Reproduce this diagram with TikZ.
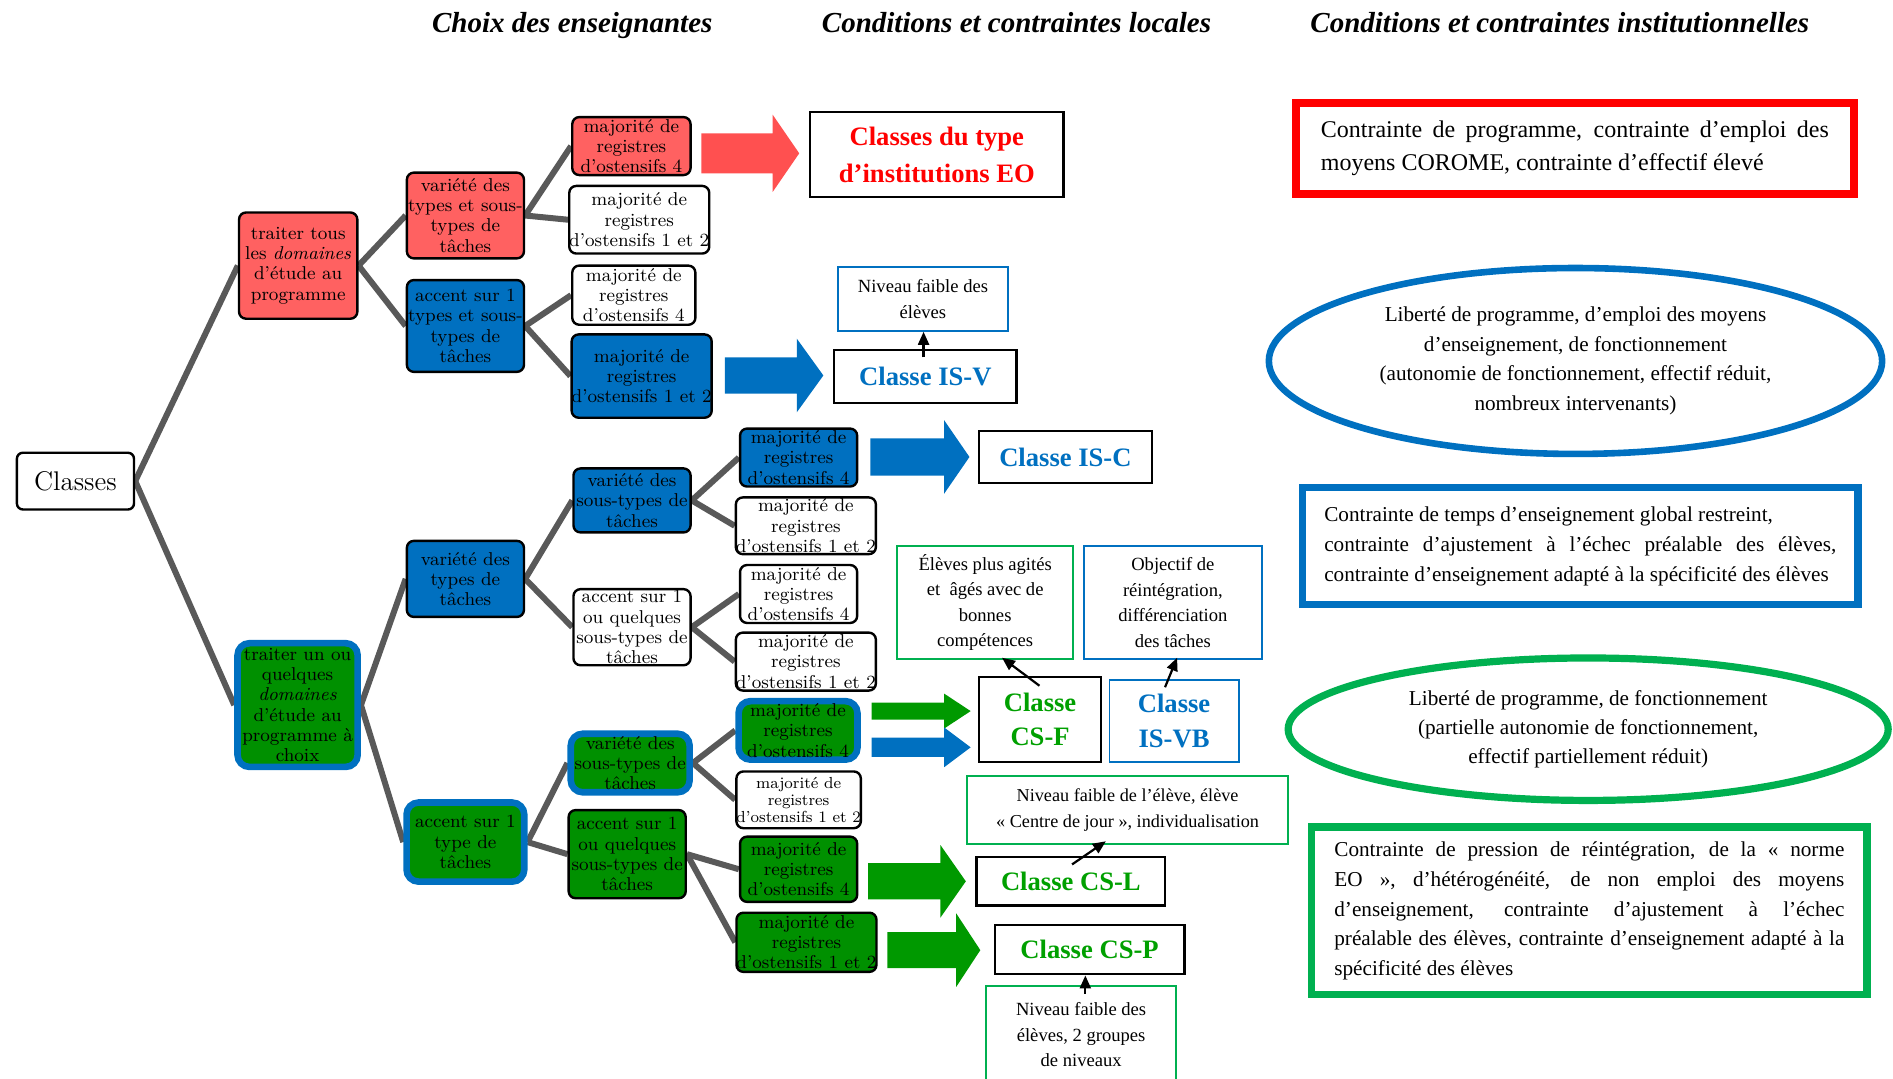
\documentclass[tikz,border=0pt]{standalone}
\usepackage{fontspec}
\newfontfamily\tnr{Liberation Serif}
\usetikzlibrary{shapes.geometric,backgrounds,calc,arrows.meta}
\definecolor{cred}{HTML}{FF6161}
\definecolor{cblue}{HTML}{0070C0}
\definecolor{cgreen}{HTML}{009000}
\definecolor{cgray}{HTML}{595959}
\definecolor{ared}{HTML}{FF5050}
\definecolor{agreen}{HTML}{009900}
\definecolor{tgreen}{HTML}{00A000}
\definecolor{bgreen}{HTML}{00B050}
\definecolor{bred}{HTML}{FF0000}
\newcommand\maj[1]{majorité de\\registres\\d'ostensifs #1}
% start, end, shaft half, head half, head length, colour
\newcommand\barrow[6]{\fill[#6] ($(#1)+(0,-#3)$) -- ($(#2)+(-#5,-#3)$) -- ($(#2)+(-#5,-#4)$) -- (#2) -- ($(#2)+(-#5,#4)$) -- ($(#2)+(-#5,#3)$) -- ($(#1)+(0,#3)$) -- cycle;}
\begin{document}
\begin{tikzpicture}[x=0.6036pt, y=-0.6036pt,
  sz/.style 2 args={minimum width=#1*0.6036pt, minimum height=#2*0.6036pt},
  tn/.style={draw=black, line width=1.2pt, rounded corners=3.5pt, align=center, inner sep=0pt, font=\fontsize{9.3}{10.1}\selectfont},
  redn/.style={tn, fill=cred},
  bluen/.style={tn, fill=cblue},
  whiten/.style={tn, fill=white},
  greenn/.style={tn, fill=cgreen},
  gbn/.style={tn, fill=cgreen, draw=cblue, line width=3.3pt, rounded corners=6pt},
  conn/.style={draw=cgray, line width=3pt},
  cb/.style={draw=black, line width=1.2pt, fill=white, align=center, inner sep=0pt, font=\tnr\bfseries\fontsize{13.3}{18.5}\selectfont},
  nb/.style={draw, line width=1pt, fill=white, align=center, inner sep=0pt, font=\tnr\fontsize{9.3}{12.8}\selectfont},
  sa/.style={draw=black, line width=1.1pt, -{Triangle[length=6.5pt, width=5.5pt]}},
  hd/.style={anchor=base, inner sep=0pt, font=\tnr\bfseries\itshape\fontsize{14.5}{17}\selectfont},
]
\useasboundingbox (0,0) rectangle (1568,893);

% headers
\node[hd] (H1) at (474,27) {Choix des enseignantes};
\node[hd] (H2) at (842,27) {Conditions et contraintes locales};
\node[hd] (H3) at (1292,27) {Conditions et contraintes institutionnelles};

% tree
\node[tn, fill=white, sz={97}{47}, rounded corners=3pt, font=\fontsize{13.5}{15}\selectfont] (C0) at (62.5,398.5) {Classes};
\node[redn, sz={98}{88}] (T1) at (247,220) {traiter tous\\les \emph{domaines}\\d'étude au\\programme};
\node[gbn, sz={99.5}{102.5}] (T2) at (246.5,584) {traiter un ou\\quelques\\\emph{domaines}\\d'étude au\\programme à\\choix};
\node[redn, sz={97}{71}] (R1) at (385.5,178.5) {variété des\\types et sous-\\types de\\tâches};
\node[bluen, sz={97}{76}] (B1) at (385.5,270) {accent sur 1\\types et sous-\\types de\\tâches};
\node[bluen, sz={97}{63}] (B2) at (385.5,479.5) {variété des\\types de\\tâches};
\node[gbn, sz={97.5}{65.5}] (G1) at (385.5,697.5) {accent sur 1\\type de\\tâches};
\node[redn, sz={98}{48}] (r4) at (523,121) {\maj{4}};
\node[whiten, sz={111}{56}] (w12a) at (529.5,182) {\maj{1 et 2}};
\node[whiten, sz={102}{49}] (w4a) at (525,244.5) {\maj{4}};
\node[bluen, sz={115}{69}] (b12) at (531.5,311.5) {\maj{1 et 2}};
\node[bluen, sz={97}{53}] (B3) at (523.5,414.5) {variété des\\sous-types de\\tâches};
\node[whiten, sz={97}{63}] (W1) at (523.5,519.5) {accent sur 1\\ou quelques\\sous-types de\\tâches};
\node[gbn, sz={98.5}{48.5}] (G2) at (522,632) {variété des\\sous-types de\\tâches};
\node[greenn, sz={97}{73}] (G3) at (519.5,707.5) {accent sur 1\\ou quelques\\sous-types de\\tâches};
\node[bluen, sz={97}{48}] (b4) at (661.5,379) {\maj{4}};
\node[whiten, sz={109}{47}] (w12b) at (667.5,435.5) {\maj{1 et 2}};
\node[whiten, sz={97}{48}] (w4b) at (661.5,492) {\maj{4}};
\node[whiten, sz={109}{48}] (w12c) at (667.5,548) {\maj{1 et 2}};
\node[gbn, sz={98.5}{48.5}] (g4a) at (661,605) {\maj{4}};
\node[whiten, sz={97}{47}, font=\fontsize{8}{8.6}\selectfont] (w12d) at (661.5,662.5) {\maj{1 et 2}};
\node[greenn, sz={97}{54}] (g4b) at (661.5,720) {\maj{4}};
\node[greenn, sz={110}{49}] (g12) at (668,780.5) {\maj{1 et 2}};

\begin{scope}[on background layer]
\foreach \a/\b in {C0/T1, C0/T2, T1/R1, T1/B1, R1/r4, R1/w12a, B1/w4a, B1/b12,
  T2/B2, T2/G1, B2/B3, B2/W1, B3/b4, B3/w12b, W1/w4b, W1/w12c,
  G1/G2, G1/G3, G2/g4a, G2/w12d, G3/g4b, G3/g12}
  \draw[conn] (\a.east) -- (\b.west);
\end{scope}

% class boxes
\node[cb, sz={210}{70}, text=bred] (EO) at (776,128) {Classes du type\\d’institutions EO};
\node[cb, sz={151}{44}, text=cblue] (ISV) at (766.5,312) {Classe IS-V};
\node[cb, sz={143}{43}, text=cblue] (ISC) at (882.5,378.5) {Classe IS-C};
\node[cb, sz={101}{70}, text=tgreen, font=\tnr\bfseries\fontsize{13.3}{17.3}\selectfont] (CSF) at (861.5,596) {Classe\\CS-F};
\node[cb, sz={107}{68}, text=cblue, draw=cblue, line width=0.9pt, font=\tnr\bfseries\fontsize{13.3}{17.3}\selectfont] (ISVB) at (972.5,597) {Classe\\IS-VB};
\node[cb, sz={156}{40}, text=tgreen] (CSL) at (887,730) {Classe CS-L};
\node[cb, sz={157}{41}, text=tgreen] (CSP) at (902.5,786.5) {Classe CS-P};

% note boxes
\node[nb, draw=cblue, sz={141}{53}] (NivV) at (764.5,247.5) {Niveau faible des\\élèves};
\node[nb, draw=bgreen, sz={146}{94}] (Elv) at (816,499) {Élèves plus agités\\et~ âgés avec de\\bonnes\\compétences};
\node[nb, draw=cblue, sz={147}{94}] (Obj) at (971.5,499) {Objectif de\\réintégration,\\différenciation\\des tâches};
\node[nb, draw=bgreen, sz={266}{56}, font=\tnr\fontsize{9.1}{12.8}\selectfont] (NivL) at (934,671) {Niveau faible de l’élève, élève\\«~Centre de jour~», individualisation};
\node[nb, draw=bgreen, sz={157}{80}] (NivP) at (895.5,857) {Niveau faible des\\élèves, 2 groupes\\de niveaux};

% small arrows
\draw[sa] ($(ISV.north)+(-1.5,7)$) -- ($(NivV.south)+(0.5,0)$);
\draw[sa] ($(CSF.north)+(-0.5,8)$) -- ($(Elv.south)+(14,-2)$);
\draw[sa] ($(ISVB.north)+(-7.5,7)$) -- ($(Obj.south)+(3.5,-2)$);
\draw[sa] ($(CSL.north)+(1,7)$) -- ($(NivL.south)+(-18,-3)$);
\draw[sa] ($(NivP.north)+(3.5,7)$) -- ($(CSP.south)+(-3.5,0)$);

% block arrows
\coordinate (a1s) at ($(r4.east |- EO.west)+(8,-1)$);
\coordinate (a1e) at ($(EO.west)+(-8,-1)$);
\barrow{a1s}{a1e}{16.5}{32}{22}{ared}
\coordinate (a2s) at ($(b12.east |- ISV.west)+(10,-1)$);
\coordinate (a2e) at ($(ISV.west)+(-8,-1)$);
\barrow{a2s}{a2e}{15}{30.5}{22}{cblue}
\coordinate (a3s) at ($(b4.east |- ISC.west)+(10,0)$);
\coordinate (a3e) at ($(ISC.west)+(-7,0)$);
\barrow{a3s}{a3e}{15.5}{30.5}{21}{cblue}
\coordinate (a4s) at ($(g4a.east |- CSF.west)+(9,-7)$);
\coordinate (a4e) at ($(CSF.west)+(-6,-7)$);
\barrow{a4s}{a4e}{7}{14.5}{22}{agreen}
\coordinate (a5s) at ($(g4a.east |- CSF.west)+(9,23)$);
\coordinate (a5e) at ($(CSF.west)+(-6,23)$);
\barrow{a5s}{a5e}{8}{16.5}{22}{cblue}
\coordinate (a6s) at ($(g4b.east |- CSL.west)+(8,0)$);
\coordinate (a6e) at ($(CSL.west)+(-8,0)$);
\barrow{a6s}{a6e}{15}{30}{21}{agreen}
\coordinate (a7s) at ($(g12.east |- CSP.west)+(8,0.5)$);
\coordinate (a7e) at ($(CSP.west)+(-11,0.5)$);
\barrow{a7s}{a7e}{15}{30.5}{20}{agreen}

% institutional constraints
\node[draw=bred, line width=3.9pt, sz={462.5}{75.5}, inner sep=0pt, text width=254pt, align=justify, font=\tnr\fontsize{12}{16.3}\selectfont] (RB) at (1304.5,123) {Contrainte de programme, contrainte d’emploi des\linebreak moyens COROME, contrainte d’effectif élevé};
\node[ellipse, draw=cblue, line width=3.3pt, sz={508}{154}, inner sep=0pt, align=center, font=\tnr\fontsize{10.6}{14.7}\selectfont] (E1) at (1305,299) {Liberté de programme, d’emploi des moyens\\d’enseignement, de fonctionnement\\(autonomie de fonctionnement, effectif réduit,\\nombreux intervenants)};
\node[draw=cblue, line width=3.6pt, sz={460}{97}, inner sep=0pt, text width=256pt, align=justify, font=\tnr\fontsize{10.6}{15.1}\selectfont] (BR) at (1309,452.5) {Contrainte de temps d’enseignement global restreint,\\contrainte d’ajustement à l’échec préalable des élèves,\linebreak \mbox{contrainte d’enseignement adapté à la spécificité des élèves}};
\node[ellipse, draw=bgreen, line width=3.6pt, sz={497}{118}, inner sep=0pt, align=center, font=\tnr\fontsize{10.6}{14.7}\selectfont] (E2) at (1315.5,604) {Liberté de programme, de fonctionnement\\(partielle autonomie de fonctionnement,\\effectif partiellement réduit)};
\node[draw=bgreen, line width=3.9pt, sz={460.5}{138.5}, inner sep=0pt, text width=255pt, align=justify, font=\tnr\fontsize{10.6}{14.8}\selectfont] (GR) at (1316.5,754.5) {Contrainte de pression de réintégration, de la «~norme\linebreak EO~», d’hétérogénéité, de non emploi des moyens\linebreak d’enseignement, contrainte d’ajustement à l’échec\linebreak préalable des élèves, contrainte d’enseignement adapté à la\linebreak spécificité des élèves};
\end{tikzpicture}
\end{document}
